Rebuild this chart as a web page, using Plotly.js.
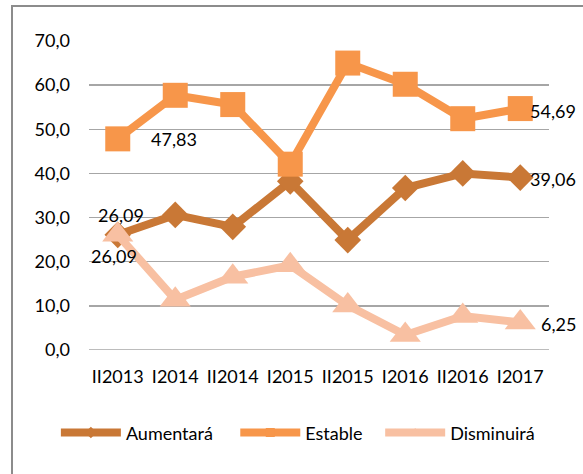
<!DOCTYPE html>
<html>
<head>
<meta charset="utf-8">
<script src="https://cdn.plot.ly/plotly-3.0.1.min.js"></script>
<style>
  html, body { margin: 0; padding: 0; background: #fff; }
  #wrap { position: relative; width: 583px; height: 474px; overflow: hidden; }
  #frame { position: absolute; left: 11px; top: 5px; width: 620px; height: 520px; border: 2px solid #8c8c8c; box-sizing: border-box; }
  #chart { position: absolute; left: 0; top: 0; width: 583px; height: 474px; }
</style>
</head>
<body>
<div id="wrap">
  <div id="frame"></div>
  <div id="chart"></div>
</div>
<script>
const categories = ["II2013", "I2014", "II2014", "I2015", "II2015", "I2016", "II2016", "I2017"];
const aumentara = [26.09, 30.6, 27.9, 38.2, 24.9, 36.7, 40.0, 39.06];
const estable = [47.83, 57.7, 55.6, 42.1, 65.0, 60.2, 52.4, 54.69];
const disminuira = [26.09, 11.4, 16.6, 19.2, 10.1, 3.4, 7.7, 6.25];
const seriesNames = ["Aumentará", "Estable", "Disminuirá"];

const colors = ["#C97836", "#F7964A", "#F8C0A2"];
const symbols = ["diamond", "square", "triangle-up"];
const sizes = [20.5, 25, 27];
const FONT = "Lato, 'Open Sans', sans-serif";

function fmt(v) { return v.toFixed(2).replace('.', ','); }

const seriesData = [aumentara, estable, disminuira];
const legendIds = ['legend', 'legend2', 'legend3'];

const traces = [];
seriesData.forEach((vals, i) => {
  traces.push({ x: categories, y: vals, name: seriesNames[i], type: 'scatter', mode: 'lines+markers',
    showlegend: false, hoverinfo: 'skip',
    line: { color: colors[i], width: 8 }, marker: { symbol: symbols[i], size: sizes[i], color: colors[i] } });
});
// legend entries (no data drawn)
seriesData.forEach((vals, i) => {
  traces.push({ x: [null], y: [null], name: seriesNames[i], type: 'scatter', mode: 'lines+markers',
    showlegend: true, legend: legendIds[i],
    line: { color: colors[i], width: 8 }, marker: { symbol: symbols[i], size: 9, color: colors[i] } });
});

const last = categories.length - 1;
const annFont = { family: FONT, size: 18, color: '#000' };
const annotations = [
  { x: categories[0], y: aumentara[0], text: fmt(aumentara[0]), xanchor: 'center', yanchor: 'middle', xshift: 3, yshift: 20 },
  { x: categories[0], y: disminuira[0], text: fmt(disminuira[0]), xanchor: 'center', yanchor: 'middle', xshift: -4, yshift: -21 },
  { x: categories[0], y: estable[0], text: fmt(estable[0]), xanchor: 'left', yanchor: 'middle', xshift: 31, yshift: 0 },
  { x: categories[last], y: estable[last], text: fmt(estable[last]), xanchor: 'left', yanchor: 'middle', xshift: 8, yshift: -2 },
  { x: categories[last], y: aumentara[last], text: fmt(aumentara[last]), xanchor: 'left', yanchor: 'middle', xshift: 8, yshift: -1 },
  { x: categories[last], y: disminuira[last], text: fmt(disminuira[last]), xanchor: 'left', yanchor: 'middle', xshift: 19, yshift: -2 }
].map(a => Object.assign({ xref: 'x', yref: 'y', showarrow: false, font: annFont }, a));

function legendAt(xp) {
  return { orientation: 'h', x: xp, y: -0.268, xanchor: 'left', yanchor: 'middle',
    font: { family: FONT, size: 18, color: '#000' }, itemwidth: 60, bgcolor: 'rgba(0,0,0,0)', borderwidth: 0 };
}

const layout = {
  width: 583, height: 474,
  margin: { l: 89, r: 33.5, t: 40.7, b: 124 },
  paper_bgcolor: 'rgba(0,0,0,0)',
  plot_bgcolor: 'rgba(0,0,0,0)',
  separators: ',.',
  font: { family: FONT, size: 18, color: '#000' },
  showlegend: true,
  legend: legendAt(-0.072),
  legend2: legendAt(0.318),
  legend3: legendAt(0.633),
  xaxis: {
    type: 'category', range: [-0.5, 7.5], showgrid: false, zeroline: false, showline: false,
    ticks: '', ticklabelstandoff: 14, tickfont: { family: FONT, size: 18, color: '#000' }, fixedrange: true
  },
  yaxis: {
    range: [0, 70], dtick: 10, tick0: 0, tickformat: '.1f', showgrid: true, gridcolor: '#a6a6a6', gridwidth: 1.4,
    zeroline: false, showline: false, ticks: '', ticklabelstandoff: 18,
    tickfont: { family: FONT, size: 18, color: '#000' }, fixedrange: true
  },
  shapes: [
    { type: 'line', xref: 'paper', yref: 'y', x0: 0, x1: 1, y0: 0, y1: 0, line: { color: '#a6a6a6', width: 1.4 } }
  ],
  annotations: annotations
};

Plotly.newPlot('chart', traces, layout, { staticPlot: true, displayModeBar: false });
</script>
</body>
</html>
